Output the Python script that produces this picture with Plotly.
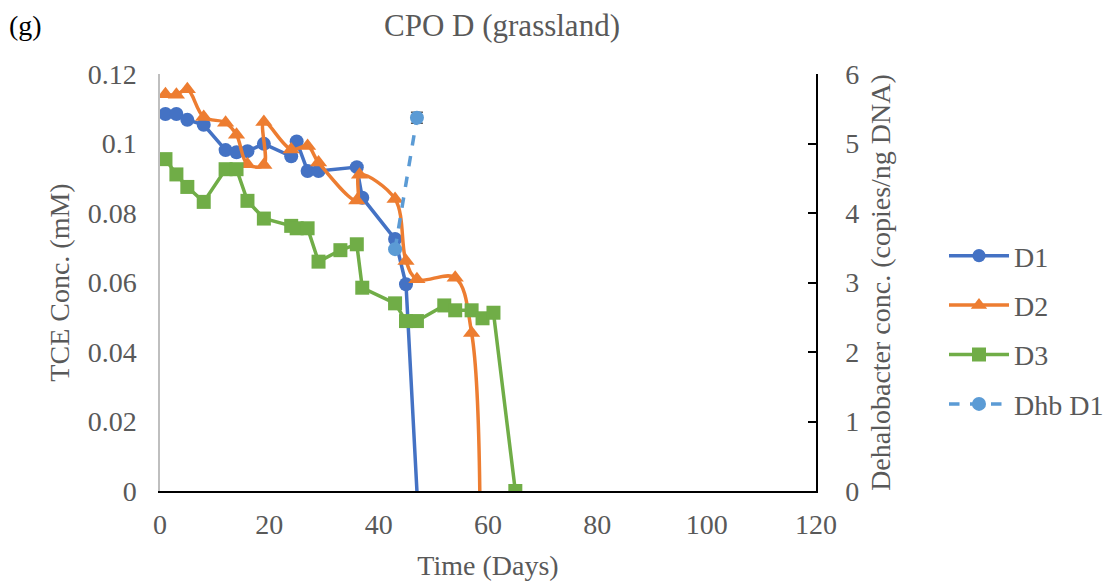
import plotly.graph_objects as go

# ---- data ----
d1_days = [1, 3, 5, 8, 12, 14, 16, 19, 24, 25, 27, 29, 36, 37, 43, 45, 47]
d1_tce = [0.1085, 0.1085, 0.1068, 0.1054, 0.0981, 0.0975, 0.0978, 0.0999, 0.0963, 0.1006,
          0.0921, 0.0921, 0.0932, 0.0844, 0.0725, 0.0595, 0.0]

d2_days = [1, 3, 5, 8, 12, 14, 16, 19, 19, 24, 27, 29, 36, 36.5, 43, 45, 47, 54, 57, 58.5]
d2_tce = [0.1142, 0.1140, 0.1156, 0.1076, 0.1060, 0.1025, 0.0940, 0.0938, 0.1062, 0.0983,
          0.0993, 0.0945, 0.0836, 0.0910, 0.0840, 0.0662, 0.0609, 0.0614, 0.0455, 0.0]

d3_days = [1, 3, 5, 8, 12, 14, 16, 19, 24, 25, 27, 29, 33, 36, 37, 43, 45, 47, 52, 54, 57, 59, 61, 65]
d3_tce = [0.0955, 0.0911, 0.0875, 0.0832, 0.0926, 0.0926, 0.0835, 0.0784, 0.0763, 0.0756,
          0.0756, 0.0660, 0.0693, 0.0710, 0.0585, 0.0540, 0.0489, 0.0489, 0.0534, 0.0520,
          0.0520, 0.0497, 0.0513, 0.0]

dhb_days = [43, 47]
dhb_conc = [3.48, 5.37]
dhb_err = [0.0, 0.08]

x_ticks = [0, 20, 40, 60, 80, 100, 120]

FONT = "Liberation Serif, Times New Roman, serif"
GREY = "#595959"
BLUE = "#4472C4"
ORANGE = "#ED7D31"
GREEN = "#70AD47"
LBLUE = "#5B9BD5"
FS = 28

# the page body adds an 8px offset; shift the content to compensate
OFF = 8
ML, MT = 160 - OFF, 74 - OFF
PW, PH = 656, 417
W, H = 1120, 587

fig = go.Figure()

fig.add_trace(go.Scatter(
    x=d1_days, y=d1_tce, name="D1", mode="lines+markers", legendgroup="g1",
    line=dict(color=BLUE, width=3.5),
    marker=dict(symbol="circle", color=BLUE, opacity=1, line=dict(width=0),
                size=[14] * (len(d1_days) - 1) + [0]),
))
fig.add_trace(go.Scatter(
    x=d2_days, y=d2_tce, name="D2", mode="lines+markers", legendgroup="g2",
    line=dict(color=ORANGE, width=3.5, shape="spline", smoothing=1.0),
    marker=dict(symbol="triangle-up", color=ORANGE, opacity=1, line=dict(width=0),
                size=[15] * (len(d2_days) - 1) + [0]),
))
fig.add_trace(go.Scatter(
    x=d3_days, y=d3_tce, name="D3", mode="lines+markers", legendgroup="g3",
    line=dict(color=GREEN, width=3.5),
    marker=dict(symbol="square", color=GREEN, opacity=1, line=dict(width=0), size=14),
))
fig.add_trace(go.Scatter(
    x=dhb_days, y=dhb_conc, name="Dhb D1", mode="lines+markers", legendgroup="g4",
    yaxis="y2",
    line=dict(color=LBLUE, width=3.5, dash="dash"),
    marker=dict(symbol="circle", color=LBLUE, opacity=1, line=dict(width=0), size=14),
    error_y=dict(type="data", array=dhb_err, visible=True, color=GREY, thickness=1.5, width=6),
))

tf = dict(family=FONT, size=FS, color=GREY)

fig.update_layout(
    width=W, height=H,
    margin=dict(l=ML, r=W - ML - PW, t=MT, b=H - MT - PH, autoexpand=False),
    paper_bgcolor="white", plot_bgcolor="white",
    font=dict(family=FONT, size=FS, color=GREY),
    title=dict(text="CPO D (grassland)", x=(502 - OFF) / W, xref="container", xanchor="center",
               y=1 - 17 / H, yref="container", yanchor="middle",
               font=dict(family=FONT, size=31, color=GREY)),
    xaxis=dict(range=[0, 120], tickvals=x_ticks, showline=True, linecolor="black", linewidth=1.5,
               ticks="", showgrid=False, zeroline=False, ticklabelstandoff=8, tickfont=tf,
               title=dict(text="Time (Days)", standoff=16, font=tf)),
    yaxis=dict(range=[0, 0.12], dtick=0.02, showline=True, linecolor="#BFBFBF", linewidth=1.5,
               ticks="", showgrid=False, zeroline=False, ticklabelstandoff=16, tickfont=tf,
               title=dict(text="TCE Conc. (mM)", standoff=10, font=tf)),
    yaxis2=dict(range=[0, 6], dtick=1, overlaying="y", side="right", showline=True,
                linecolor="black", linewidth=1.5, ticks="inside", ticklen=8, tickcolor="black",
                tickwidth=1.5, showgrid=False, zeroline=False, ticklabelstandoff=22, tickfont=tf,
                title=dict(text="Dehalobacter conc. (copies/ng DNA)", standoff=12, font=tf)),
    legend=dict(x=(944 - OFF - ML) / PW, xanchor="left", y=(PH - (231 - 74)) / PH, yanchor="top",
                tracegroupgap=10, itemwidth=60,
                bgcolor="rgba(0,0,0,0)", font=tf),
    showlegend=True,
)

fig.add_annotation(text="(g)", xref="paper", yref="paper", x=(7 - OFF - ML) / PW,
                   y=(PH - (25 - 74)) / PH,
                   xanchor="left", yanchor="middle", showarrow=False,
                   font=dict(family=FONT, size=FS, color="black"))

fig.write_html("out.html")
